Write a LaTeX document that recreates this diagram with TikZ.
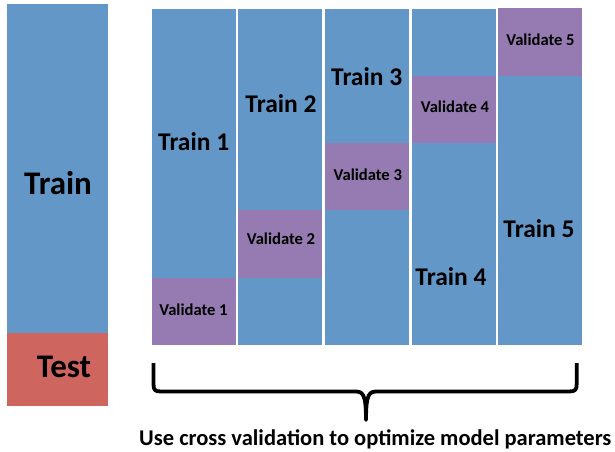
\documentclass[tikz,border=0pt]{standalone}
\usepackage{fontspec}
\setmainfont{Carlito}
\definecolor{trainblue}{RGB}{99,151,199}
\definecolor{valpurple}{RGB}{149,123,177}
\definecolor{testred}{RGB}{206,101,94}
\tikzset{
  biglabel/.style={font=\bfseries\fontsize{33}{33}\selectfont, inner sep=0pt},
  foldlabel/.style={font=\bfseries\fontsize{25.5}{25.5}\selectfont, inner sep=0pt},
  vallabel/.style={font=\bfseries\fontsize{16.6}{16.6}\selectfont, inner sep=0pt}
}
\begin{document}
\begin{tikzpicture}[x=1pt,y=-1pt]
      \useasboundingbox (0,0) rectangle (615,451);
      % train / test split
      \fill[trainblue] (7,4) rectangle (107.5,333);
      \fill[testred] (7,333) rectangle (107.5,406);
      \node[biglabel] (train) at (58,183) {Train};
      \node[biglabel] (test) at (64,367.3) {Test};
      % the five folds
      \fill[trainblue] (151.5,9) rectangle (235.5,344.5); \fill[valpurple] (151.5,277.5) rectangle (235.5,344.5);
      \node[foldlabel] (train1) at (193.7,141.3) {Train 1}; \node[vallabel] (val1) at (193.5,309.7) {Validate 1};
      \fill[trainblue] (238.2,9) rectangle (322.2,344.5); \fill[valpurple] (238.2,210.4) rectangle (322.2,277.5);
      \node[foldlabel] (train2) at (281,103.3) {Train 2}; \node[vallabel] (val2) at (281,238.8) {Validate 2};
      \fill[trainblue] (324.9,9) rectangle (408.9,344.5); \fill[valpurple] (324.9,143.3) rectangle (408.9,210.4);
      \node[foldlabel] (train3) at (366.7,76.7) {Train 3}; \node[vallabel] (val3) at (367.8,175) {Validate 3};
      \fill[trainblue] (411.6,9) rectangle (495.6,344.5); \fill[valpurple] (411.6,76.2) rectangle (495.6,143.3);
      \node[foldlabel] (train4) at (451,276.7) {Train 4}; \node[vallabel] (val4) at (455,106.7) {Validate 4};
      \fill[trainblue] (498.3,8) rectangle (582.3,344.5); \fill[valpurple] (498.3,8) rectangle (582.3,76.2);
      \node[foldlabel] (train5) at (539,228.3) {Train 5}; \node[vallabel] (val5) at (540.5,39.8) {Validate 5};
      % brace and caption
      \coordinate (braceL) at (153.5,363);
      \coordinate (braceR) at (576.7,363);
      \coordinate (braceTip) at (366,420);
      \draw[line width=3.8pt, line join=round]
        (braceL) -- (153.5,384) .. controls (153.5,390) and (155,391.5) .. (161,391.5) -- (355,391.5)
        .. controls (363,391.5) and (366,394) .. (braceTip)
        .. controls (366,394) and (369,391.5) .. (377,391.5) -- (569,391.5)
        .. controls (575,391.5) and (576.7,390) .. (576.7,384) -- (braceR);
      \node[font=\bfseries\fontsize{22.5}{22.5}\selectfont, inner sep=0pt, anchor=base] (caption) at (375.3,445) {Use cross validation to optimize model parameters};
\end{tikzpicture}
\end{document}
